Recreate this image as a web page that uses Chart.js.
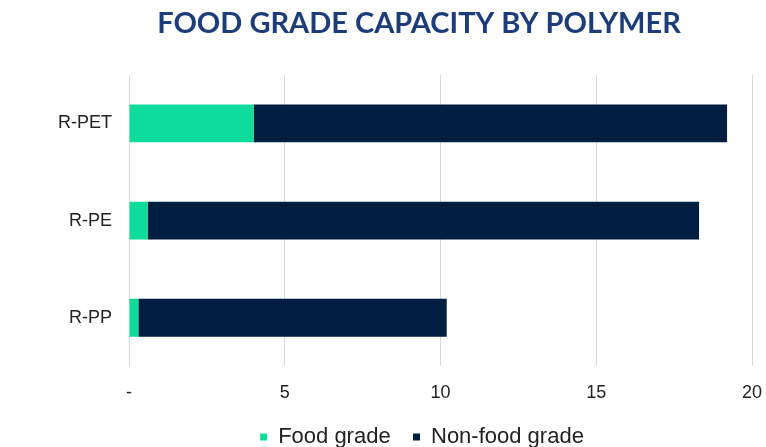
<!DOCTYPE html>
<html>
<head>
<meta charset="utf-8">
<script src="https://cdn.jsdelivr.net/npm/chart.js@4/dist/chart.umd.min.js"></script>
<style>
  html, body { margin: 0; padding: 0; background: #fff; }
  #wrap { width: 766px; height: 447px; }
</style>
</head>
<body>
<div id="wrap"><canvas id="chart" width="766" height="447"></canvas></div>
<script>
var polymers = ["R-PET", "R-PE", "R-PP"];
var foodGrade = [4.0, 0.6, 0.3];
var nonFoodGrade = [15.2, 17.7, 9.9];
var xTicks = [0, 5, 10, 15, 20];

var context = document.getElementById("chart").getContext("2d");

// title and legend sit off-centre in the original, chart.js always centres them
var nudge = {
  id: "nudge",
  afterLayout: function (c) {
    var t = c.titleBlock;
    if (t) {
      t.left += 16;
      t.right += 16;
    }
    var lg = c.legend;
    if (lg) {
      lg.left += 19;
      lg.right += 19;
      lg.top += 2;
      lg.bottom += 2;
    }
  },
};

var chart = new Chart(context, {
  type: "bar",
  data: {
    labels: polymers,
    datasets: [
      {
        label: "Food grade",
        data: foodGrade,
        backgroundColor: "#0fdc98",
        borderWidth: 0,
        categoryPercentage: 1,
        barPercentage: 0.39,
      },
      {
        label: "Non-food grade",
        data: nonFoodGrade,
        backgroundColor: "#001f40",
        borderWidth: 0,
        categoryPercentage: 1,
        barPercentage: 0.39,
      },
    ],
  },
  plugins: [nudge],
  options: {
    indexAxis: "y",
    responsive: false,
    animation: false,
    layout: { padding: { left: 40, right: 0, top: 0, bottom: -9 } },
    scales: {
      x: {
        stacked: true,
        min: 0,
        max: 20,
        afterBuildTicks: function (axis) {
          axis.ticks = xTicks.map(function (v) { return { value: v }; });
        },
        afterFit: function (axis) {
          axis.paddingRight = 14;
        },
        border: { display: false },
        grid: { color: "#d9d9d9", drawTicks: false },
        ticks: {
          padding: 16,
          color: "#222",
          font: { family: "Liberation Sans, Arial", size: 18 },
          callback: function (v) { return v === 0 ? "-" : v; },
        },
      },
      y: {
        stacked: true,
        afterFit: function (axis) {
          axis.width = 89;
        },
        border: { display: false },
        grid: { display: false, drawTicks: false },
        ticks: {
          padding: 17,
          color: "#222",
          font: { family: "Liberation Sans, Arial", size: 18 },
        },
      },
    },
    plugins: {
      title: {
        display: true,
        text: "FOOD GRADE CAPACITY BY POLYMER",
        color: "#1d3c78",
        font: { family: "Lato", size: 29, weight: "bold" },
        padding: { top: 6, bottom: 34 },
      },
      legend: {
        position: "bottom",
        labels: {
          boxWidth: 7,
          boxHeight: 7,
          padding: 4,
          color: "#222",
          font: { family: "Liberation Sans, Arial", size: 22 },
          generateLabels: function (c) {
            var items = Chart.defaults.plugins.legend.labels.generateLabels(c);
            items[0].text = items[0].text + "   ";
            return items;
          },
        },
      },
      tooltip: { enabled: false },
    },
  },
});
</script>
</body>
</html>
